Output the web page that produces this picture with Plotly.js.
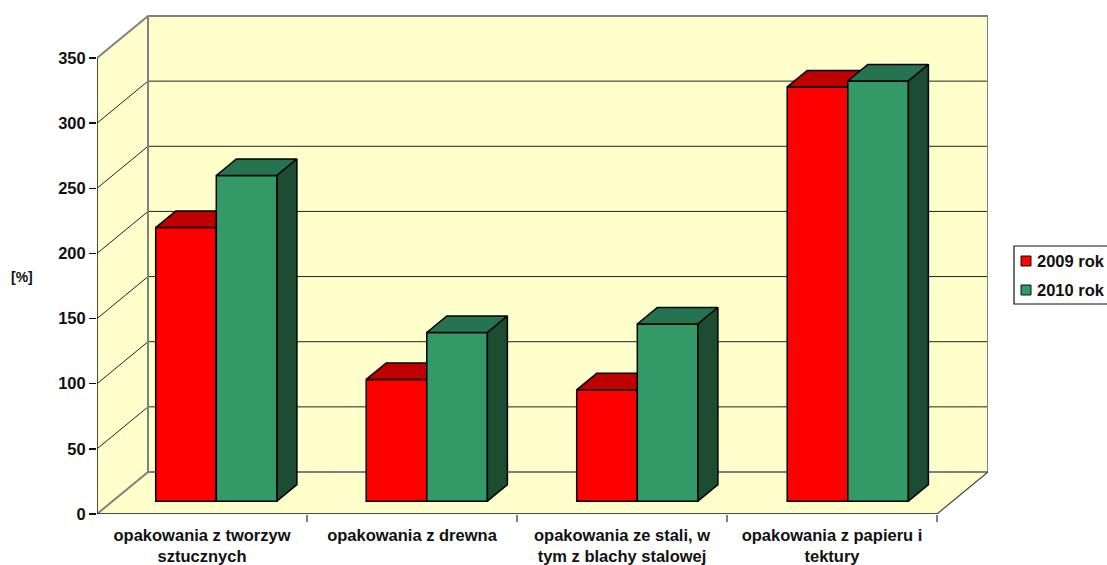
<!DOCTYPE html>
<html>
<head>
<meta charset="utf-8">
<script src="https://cdn.plot.ly/plotly-3.0.1.min.js"></script>
<style>html,body{margin:0;padding:0;background:#fff;overflow:hidden}</style>
</head>
<body>
<div id="chart" style="width:1107px;height:565px"></div>
<script>
// ---- data ----
const categories = ["opakowania z tworzyw<br>sztucznych", "opakowania z drewna", "opakowania ze stali, w<br>tym z blachy stalowej", "opakowania z papieru i<br>tektury"];
const series2009 = [210, 93.5, 85.5, 318];
const series2010 = [250, 129.5, 136, 322.5];
const seriesNames = ["2009 rok", "2010 rok"];
const yTicks = [0, 50, 100, 150, 200, 250, 300, 350];
const axisTitle = "[%]";

// ---- geometry ----
const W = 1107, H = 565, L = 97, R = 988, T = 15, B = 514;
const pxX = 210, pxY = 456 / 350;          // pixels per category / per value unit
const xMax = (R - L) / pxX, yMax = (B - T) / pxY;
const wallDX = 51 / pxX, wallDY = 42 / pxY;
const barDX = 20 / pxX, barDY = 16.5 / pxY;
const floorBase = 12.8 / pxY;              // bars stand on the floor, part-way back
const barW = 60.6 / pxX;
const groupCentre = i => i + (216.3 - L) / pxX + i * 0.5 / pxX;
const FONT = "Liberation Sans, Arial, sans-serif", INK = "#111111", GREY = "#808080";
const WALL = "#FFFFCC";

function poly(xs, ys, fill, line, width) {
  return {x: xs, y: ys, mode: "lines", fill: "toself", fillcolor: fill,
          line: {color: line, width: width}, hoverinfo: "skip", showlegend: false, cliponaxis: false};
}
function seg(xs, ys, color, width) {
  return {x: xs, y: ys, mode: "lines", line: {color: color, width: width},
          hoverinfo: "skip", showlegend: false, cliponaxis: false};
}

const traces = [];
const maxTick = 350, d = wallDX, e = wallDY;
// floor, left wall, back wall
traces.push(poly([0, xMax - d, xMax, d, 0], [0, 0, e, e, 0], WALL, WALL, 0));
traces.push(poly([0, d, d, 0, 0], [0, e, maxTick + e, maxTick, 0], WALL, WALL, 0));
traces.push(poly([d, xMax, xMax, d, d], [e, e, maxTick + e, maxTick + e, e], WALL, WALL, 0));
// gridlines on the walls
yTicks.slice(1, -1).forEach(v => {
  traces.push(seg([0, d, xMax], [v, v + e, v + e], "#222222", 1));
});
// wall edges
traces.push(seg([0, d, d, 0], [maxTick, maxTick + e, e, 0], GREY, 2));
traces.push(seg([d, xMax, xMax, d], [maxTick + e, maxTick + e, e, e], GREY, 2));
traces.push(seg([xMax - d, xMax], [0, e], "#444444", 1.2));
// front axis lines (the left one runs on into the first category tick)
traces.push(seg([0, 0], [-7 / pxY, maxTick], "#111111", 1.5));
traces.push(seg([0, xMax - d], [0, 0], "#111111", 1.5));

function addSeries(values, shift, front, topCol, sideCol, name, xa, ya) {
  const xs = values.map((_, i) => groupCentre(i) + shift);
  traces.push({type: "bar", name: name, x: xs, y: values, base: values.map(() => floorBase),
    width: barW, marker: {color: front, line: {color: "#000000", width: 1.5}},
    xaxis: xa, yaxis: ya, showlegend: false, hoverinfo: "skip"});
  values.forEach((v, i) => {
    const l = xs[i] - barW / 2, r = xs[i] + barW / 2, t = v + floorBase;
    const tp = poly([l, r, r + barDX, l + barDX, l], [t, t, t + barDY, t + barDY, t], topCol, "#000000", 1.5);
    const sd = poly([r, r + barDX, r + barDX, r, r], [t, t + barDY, floorBase + barDY, floorBase, t], sideCol, "#000000", 1.5);
    tp.xaxis = sd.xaxis = xa; tp.yaxis = sd.yaxis = ya;
    traces.push(tp, sd);
  });
}
addSeries(series2009, -barW / 2, "#FF0000", "#BF0000", "#800000", seriesNames[0], "x2", "y2");
addSeries(series2010,  barW / 2, "#339966", "#267350", "#1C4D33", seriesNames[1], "x3", "y3");

const fx = p => (p - L) / (R - L), fy = p => (B - p) / (B - T);
const layout = {
  width: W, height: H, showlegend: false, paper_bgcolor: "#fff", plot_bgcolor: "rgba(0,0,0,0)",
  margin: {l: L, r: W - R, t: T, b: H - B}, bargap: 0,
  font: {family: FONT, color: INK},
  xaxis: {range: [0, xMax], showgrid: false, zeroline: false, showline: false, ticks: "", ticklabelstandoff: 9,
          tickmode: "array", tickvals: categories.map((_, i) => i + 0.5), ticktext: categories,
          tickangle: 0, tickfont: {family: FONT, size: 16.5, color: INK, weight: "bold"}},
  yaxis: {range: [0, yMax], showgrid: false, zeroline: false, showline: false, ticks: "outside",
          ticklen: 7, tickwidth: 1.5, tickcolor: "#111111", tickmode: "array", tickvals: yTicks,
          ticktext: yTicks.map(String), tickfont: {family: FONT, size: 16.5, color: INK, weight: "bold"}},
  xaxis2: {range: [0, xMax], overlaying: "x", anchor: "y2", showgrid: false, zeroline: false, ticks: "outside",
           ticklen: 7, tickwidth: 1.5, tickcolor: GREY, tickmode: "array",
           tickvals: [1, 2, 3, 4], showticklabels: false, side: "bottom"},
  yaxis2: {range: [0, yMax], overlaying: "y", anchor: "x2", visible: false},
  xaxis3: {range: [0, xMax], overlaying: "x", anchor: "y3", visible: false},
  yaxis3: {range: [0, yMax], overlaying: "y", anchor: "x3", visible: false},
  annotations: [
    {text: "<b>" + axisTitle + "</b>", xref: "paper", yref: "paper", x: fx(22), y: fy(277), xanchor: "center", showarrow: false,
     font: {family: FONT, size: 14, color: INK}},
    {text: "<b>" + seriesNames[0] + "</b>", xref: "paper", yref: "paper", x: fx(1035), y: fy(261), xanchor: "left", showarrow: false,
     font: {family: FONT, size: 16.5, color: INK}},
    {text: "<b>" + seriesNames[1] + "</b>", xref: "paper", yref: "paper", x: fx(1035), y: fy(290), xanchor: "left", showarrow: false,
     font: {family: FONT, size: 16.5, color: INK}}
  ],
  shapes: [
    {type: "rect", xref: "paper", yref: "paper", x0: fx(1014), x1: fx(1112), y0: fy(246), y1: fy(304),
     fillcolor: "#fff", line: {color: "#111111", width: 1.2}},
    {type: "rect", xref: "paper", yref: "paper", x0: fx(1021), x1: fx(1031), y0: fy(256), y1: fy(266),
     fillcolor: "#FF0000", line: {color: "#111111", width: 1}},
    {type: "rect", xref: "paper", yref: "paper", x0: fx(1021), x1: fx(1031), y0: fy(285), y1: fy(295),
     fillcolor: "#339966", line: {color: "#111111", width: 1}}
  ]
};
Plotly.newPlot("chart", traces, layout, {displayModeBar: false, staticPlot: true});
</script>
</body>
</html>
